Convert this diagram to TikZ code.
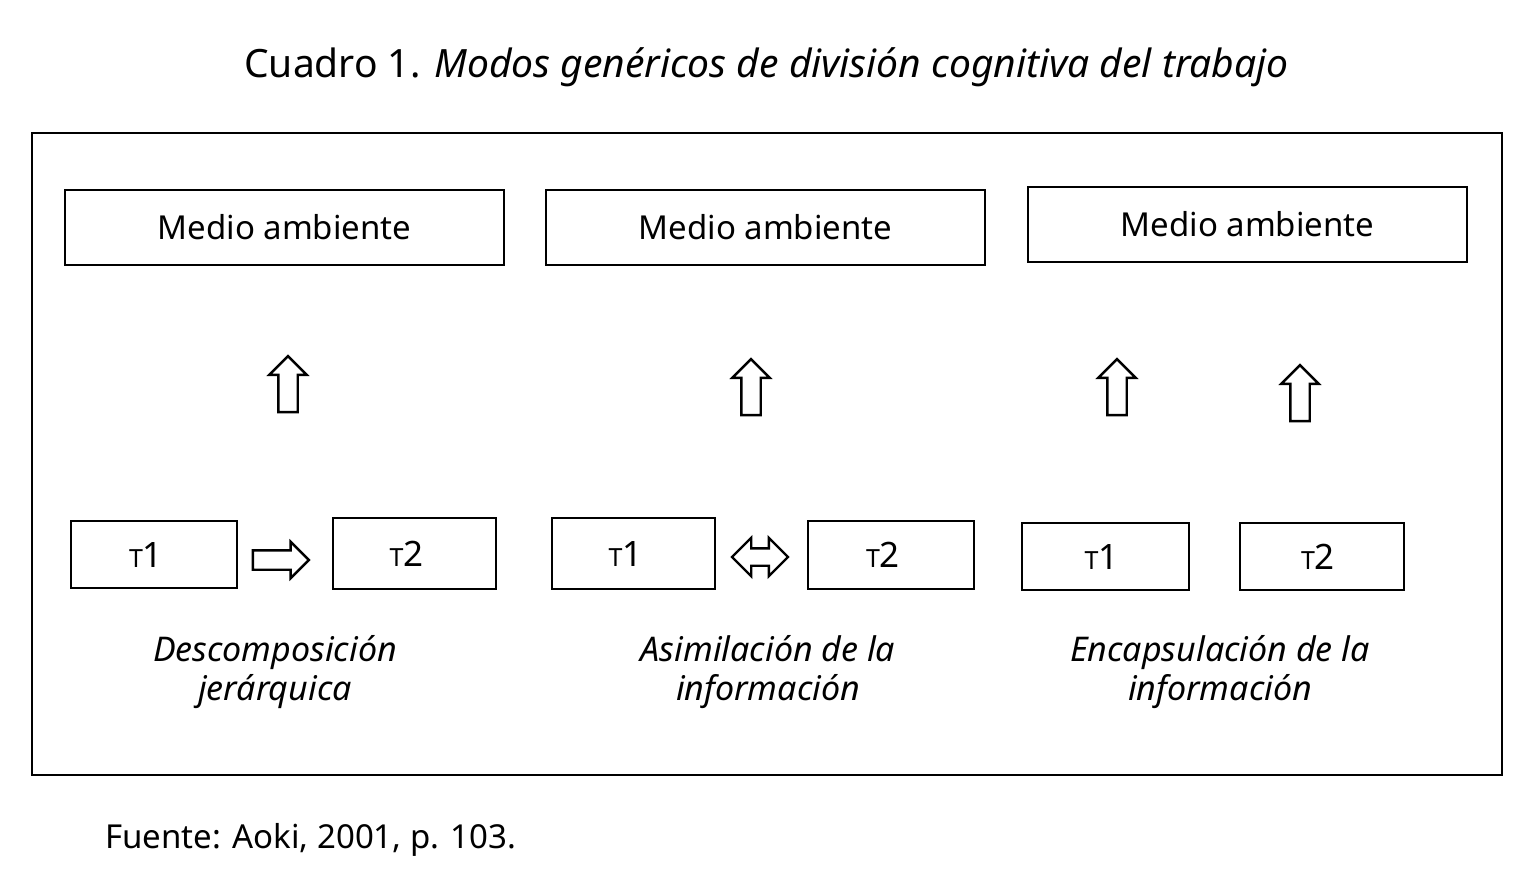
\documentclass[tikz,border=0pt]{standalone}
\usepackage{fontspec}
\setmainfont{Noto Sans}
\usetikzlibrary{shapes.arrows}
\newcommand{\smT}{{\fontsize{12.5}{12}\selectfont T}}
\begin{document}
\begin{tikzpicture}[x=0.5pt,y=-0.5pt,
  box/.style={draw, line width=1.2pt, inner sep=0pt, font=\fontsize{16.5}{20}\selectfont},
  tbox/.style={draw, line width=1.2pt, inner sep=0pt, font=\fontsize{17.5}{20}\selectfont},
  uparrow/.style={single arrow, draw, line width=1.2pt, inner sep=4.25pt, shape border rotate=90,
     minimum height=28pt, minimum width=17.5pt, single arrow head extend=4.5pt, single arrow head indent=0pt},
  caption/.style={align=center, font=\fontsize{17}{19.5}\selectfont\itshape}]
\useasboundingbox (0,0) rectangle (1535,889);
\node[font=\fontsize{19.5}{22}\selectfont] (title) at (766.5,67) {Cuadro 1. \textit{Modos genéricos de división cognitiva del trabajo}};
\draw[line width=1.2pt] (32,133) rectangle (1502,775);
% Medio ambiente
\node[box, minimum width=219.5pt, minimum height=37.5pt] (m1) at (284.5,227.5) {Medio ambiente};
\node[box, minimum width=219.5pt, minimum height=37.5pt] (m2) at (765.5,227.5) {Medio ambiente};
\node[box, minimum width=219.5pt, minimum height=37.5pt] (m3) at (1247.5,224.5) {Medio ambiente};
% up arrows
\node[uparrow] (u1) at (288,389) {};
\node[uparrow] (u2) at (751,392) {};
\node[uparrow] (u3) at (1117,392) {};
\node[uparrow] (u4) at (1300,398) {};
% T boxes
\node[tbox, minimum width=83pt, minimum height=33.5pt] (a1) at (154,554.5) {\smT1\kern8pt};
\node[tbox, minimum width=81.5pt, minimum height=35.5pt] (a2) at (414.5,553.5) {\smT2\kern8pt};
\node[tbox, minimum width=81.5pt, minimum height=35.5pt] (b1) at (633.5,553.5) {\smT1\kern8pt};
\node[tbox, minimum width=83pt, minimum height=34pt] (b2) at (891,555) {\smT2\kern8pt};
\node[tbox, minimum width=83.5pt, minimum height=33.5pt] (c1) at (1105.5,556.5) {\smT1\kern4pt};
\node[tbox, minimum width=82pt, minimum height=33.5pt] (c2) at (1322,556.5) {\smT2\kern4pt};
% horizontal arrows
\node[single arrow, draw, line width=1.2pt, inner sep=4.25pt, minimum height=28pt, minimum width=17pt,
  single arrow head extend=4.25pt, single arrow head indent=0pt] (ra) at (276,560) {};
\node[double arrow, draw, line width=1.2pt, inner sep=3.75pt, minimum height=28pt, minimum width=18pt,
  double arrow head extend=5.25pt, double arrow head indent=0pt] (da) at (760,557) {};
% captions
\node[caption] (capa) at (275,672) {Descomposición\\jerárquica};
\node[caption] (capb) at (768,672) {Asimilación de la\\información};
\node[caption] (capc) at (1220,672) {Encapsulación de la\\información};
% footer
\node[anchor=west, inner sep=0pt, font=\fontsize{16.5}{20}\selectfont] (src) at (105,840) {Fuente: Aoki, 2001, p. 103.};
\end{tikzpicture}
\end{document}
